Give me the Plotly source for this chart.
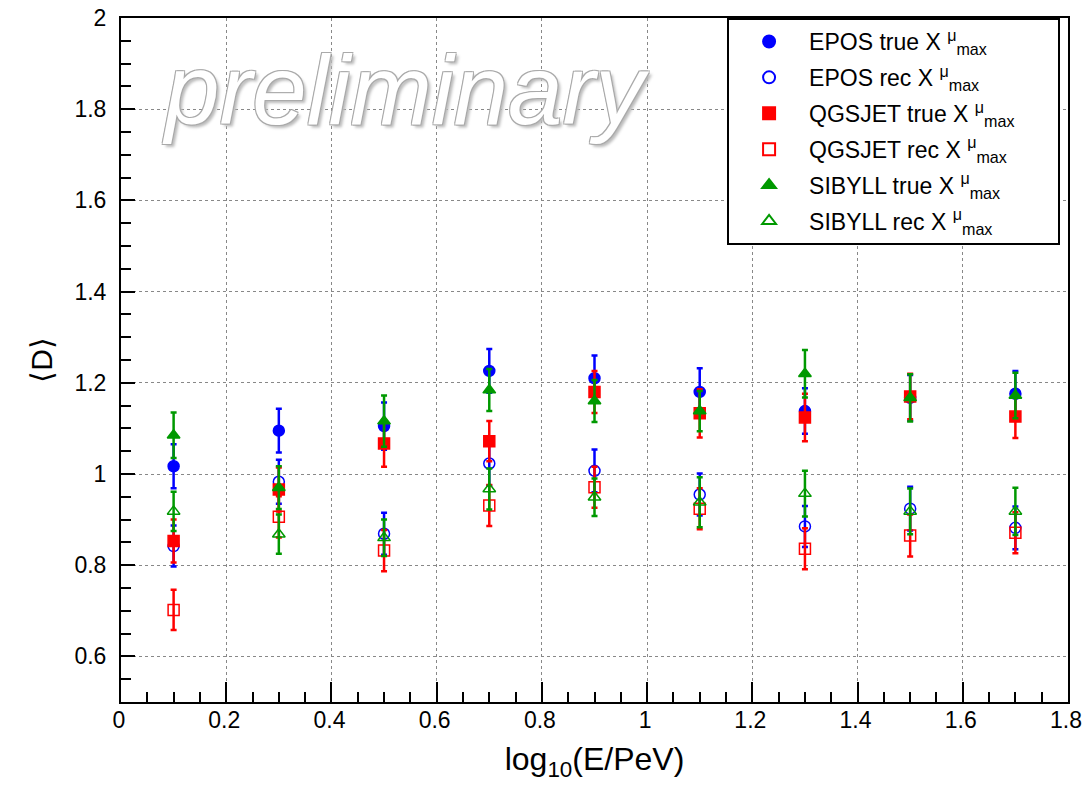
import plotly.graph_objects as go

# log10(E/PeV) bin centres
energy = [0.1, 0.3, 0.5, 0.7, 0.9, 1.1, 1.3, 1.5, 1.7]

epos_true = [1.017, 1.095, 1.105, 1.226, 1.210, 1.180, 1.138, 1.167, 1.176]
epos_true_err = [0.048, 0.048, 0.052, 0.048, 0.050, 0.052, 0.050, 0.050, 0.050]
epos_rec = [0.842, 0.983, 0.869, 1.023, 1.007, 0.955, 0.885, 0.924, 0.882]
epos_rec_err = [0.045, 0.048, 0.046, 0.048, 0.047, 0.046, 0.045, 0.048, 0.047]

qgsjet_true = [0.853, 0.966, 1.067, 1.072, 1.180, 1.133, 1.124, 1.170, 1.126]
qgsjet_true_err = [0.047, 0.048, 0.051, 0.044, 0.046, 0.053, 0.052, 0.050, 0.047]
qgsjet_rec = [0.702, 0.906, 0.832, 0.931, 0.971, 0.924, 0.836, 0.865, 0.871]
qgsjet_rec_err = [0.044, 0.045, 0.045, 0.045, 0.045, 0.045, 0.045, 0.046, 0.045]

sibyll_true = [1.085, 0.970, 1.116, 1.184, 1.160, 1.138, 1.220, 1.167, 1.172]
sibyll_true_err = [0.050, 0.047, 0.056, 0.046, 0.046, 0.044, 0.052, 0.052, 0.050]
sibyll_rec = [0.918, 0.868, 0.860, 0.967, 0.949, 0.938, 0.957, 0.918, 0.918]
sibyll_rec_err = [0.043, 0.043, 0.040, 0.045, 0.041, 0.055, 0.050, 0.050, 0.052]

# trailing spaces widen the legend box like the ROOT one
XMAX = "X <sup>μ</sup><sub>max</sub>" + "&nbsp;" * 6
FONT = "Liberation Sans, Arial, Helvetica, sans-serif"

series = [
    ("EPOS true " + XMAX, epos_true, epos_true_err, "#0000ff", "circle"),
    ("EPOS rec " + XMAX, epos_rec, epos_rec_err, "#0000ff", "circle-open"),
    ("QGSJET true " + XMAX, qgsjet_true, qgsjet_true_err, "#ff0000", "square"),
    ("QGSJET rec " + XMAX, qgsjet_rec, qgsjet_rec_err, "#ff0000", "square-open"),
    ("SIBYLL true " + XMAX, sibyll_true, sibyll_true_err, "#009900", "triangle-up"),
    ("SIBYLL rec " + XMAX, sibyll_rec, sibyll_rec_err, "#009900", "triangle-up-open"),
]

fig = go.Figure()

for i, (name, values, errors, colour, symbol) in enumerate(series):
    fig.add_trace(go.Scatter(
        x=energy,
        y=values,
        name=name,
        legendgroup=f"g{i}",
        mode="markers",
        marker=dict(symbol=symbol, size=11, color=colour, line=dict(color=colour, width=1.5)),
        error_y=dict(type="data", array=errors, color=colour, thickness=2.5, width=3),
    ))

# ROOT-style watermark
fig.add_annotation(
    x=0.54, y=1.842, xref="x", yref="y",
    text="<i>preliminary</i>",
    showarrow=False,
    font=dict(
        family=FONT, size=98, color="white",
        shadow="-1px -1px 0 #aaaaaa, 1px -1px 0 #aaaaaa, -1px 1px 0 #aaaaaa, "
               "1px 1px 0 #aaaaaa, 3px 3px 3px #bbbbbb",
    ),
)

axis_common = dict(
    showline=True, linecolor="black", linewidth=2, mirror=True,
    showgrid=True, gridcolor="#888888", griddash="dot", gridwidth=1,
    ticks="inside", tickcolor="black", tickwidth=1.5,
    tickfont=dict(family=FONT, size=23, color="black"),
    ticklabeloverflow="allow", automargin=False,
    zeroline=False,
)

fig.update_xaxes(
    **axis_common,
    range=[0, 1.80001], dtick=0.2, ticklen=20, ticklabelstandoff=-4, ticklabelshift=-2,
    minor=dict(ticks="inside", dtick=0.05, ticklen=10, tickcolor="black", tickwidth=1.5, showgrid=False),
    title=dict(text="log<sub>10</sub>(E/PeV)", font=dict(family=FONT, size=32, color="black"), standoff=16),
)
fig.update_yaxes(
    **axis_common,
    range=[0.5, 2.00001], dtick=0.2, ticklen=14, ticklabelstandoff=8,
    minor=dict(ticks="inside", dtick=0.05, ticklen=10, tickcolor="black", tickwidth=1.5, showgrid=False),
    title=dict(text="⟨D⟩", font=dict(family=FONT, size=30, color="black"), standoff=13),
)

fig.update_layout(
    width=1082, height=791,
    margin=dict(l=121, r=14, t=18, b=89, autoexpand=False),
    paper_bgcolor="white", plot_bgcolor="white",
    showlegend=True,
    legend=dict(
        x=0.64, y=1.0, xanchor="left", yanchor="top",
        bgcolor="white", bordercolor="black", borderwidth=2,
        font=dict(family=FONT, size=23, color="black"),
        itemsizing="constant", itemwidth=70,
        tracegroupgap=3,
    ),
)

# drop the default 8px page margin so the figure fills the window
fig.write_html(
    "out.html",
    config={"displayModeBar": False},
    post_script="document.body.style.margin = '0';",
)
